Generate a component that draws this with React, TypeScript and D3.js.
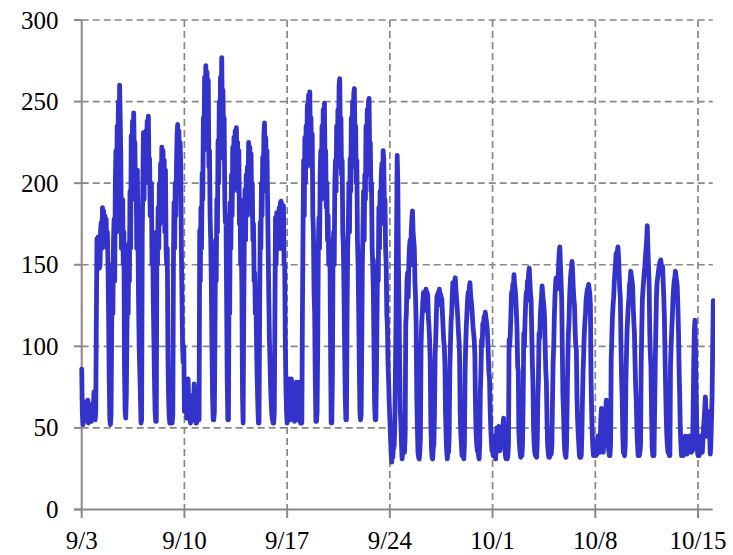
import React from "react";
import * as d3 from "d3";

// Hourly readings starting 9/3 00:00, one row per day (24 values).
const weekSep03 = [
  86, 60, 52, 66, 60, 54, 66, 58, 55, 62, 67, 53, 56, 64, 62, 55, 54, 60, 65, 58, 72, 66, 55, 60,
  120, 166, 150, 167, 162, 148, 150, 172, 176, 160, 185, 170, 183, 175, 180, 166, 178, 160, 170, 150, 120, 80, 55, 52,
  58, 110, 150, 120, 165, 178, 140, 200, 220, 170, 235, 200, 250, 210, 260, 240, 215, 160, 182, 190, 150, 170, 86, 60,
  56, 70, 110, 137, 120, 163, 140, 195, 160, 229, 190, 238, 205, 243, 220, 225, 190, 208, 160, 208, 170, 127, 100, 85,
  70, 53, 55, 167, 200, 231, 190, 225, 200, 232, 205, 238, 215, 241, 210, 215, 180, 188, 200, 150, 170, 130, 106, 80,
  60, 54, 54, 170, 150, 185, 160, 200, 175, 212, 190, 222, 195, 220, 185, 214, 170, 208, 160, 150, 160, 96, 70, 58,
  53, 62, 75, 60, 53, 58, 150, 188, 160, 200, 180, 210, 230, 236, 205, 232, 200, 225, 210, 160, 130, 100, 90, 100,
];
const weekSep10 = [
  60, 75, 78, 60, 56, 70, 80, 66, 62, 55, 53, 64, 70, 58, 55, 66, 77, 70, 60, 53, 53, 62, 60, 70,
  55, 171, 140, 185, 160, 206, 190, 240, 220, 265, 235, 272, 240, 268, 230, 263, 210, 220, 180, 165, 140, 100, 70, 55,
  55, 60, 110, 165, 140, 190, 170, 226, 200, 250, 215, 265, 240, 277, 240, 257, 230, 240, 190, 176, 180, 130, 80, 55,
  55, 150, 120, 188, 160, 205, 180, 222, 195, 228, 200, 232, 210, 234, 205, 225, 195, 220, 175, 190, 150, 165, 135, 70,
  53, 120, 170, 196, 165, 205, 180, 210, 190, 225, 195, 222, 190, 218, 180, 200, 165, 175, 140, 145, 120, 130, 100, 80,
  65, 53, 53, 120, 176, 160, 200, 180, 216, 195, 230, 237, 210, 228, 200, 220, 190, 160, 130, 104, 90, 75, 65, 58,
  55, 53, 53, 60, 120, 179, 150, 182, 160, 182, 165, 185, 160, 188, 189, 170, 187, 165, 186, 150, 150, 104, 75, 60,
];
const weekSep17 = [
  53, 62, 70, 80, 60, 55, 75, 80, 68, 56, 55, 62, 54, 60, 72, 78, 60, 55, 66, 78, 72, 60, 53, 55,
  53, 120, 170, 214, 180, 228, 200, 235, 210, 248, 220, 254, 230, 256, 225, 240, 210, 230, 180, 170, 133, 120, 80, 54,
  54, 60, 100, 160, 179, 160, 205, 220, 190, 235, 205, 245, 215, 249, 210, 220, 185, 200, 165, 180, 150, 165, 157, 100,
  53, 53, 80, 153, 170, 150, 200, 214, 195, 235, 210, 245, 225, 260, 264, 230, 240, 205, 214, 170, 160, 133, 100, 70,
  55, 55, 120, 160, 173, 200, 170, 215, 195, 240, 210, 250, 225, 255, 258, 220, 235, 200, 214, 165, 150, 122, 90, 60,
  55, 58, 100, 150, 173, 195, 165, 205, 190, 235, 205, 245, 220, 250, 252, 215, 225, 195, 200, 160, 150, 133, 100, 65,
  55, 55, 80, 120, 153, 140, 185, 160, 195, 175, 205, 212, 190, 220, 215, 185, 190, 160, 150, 120, 112, 90, 78, 65,
];
const weekSep24 = [
  55, 45, 35, 29, 40, 32, 45, 38, 50, 80, 114, 170, 217, 200, 150, 124, 90, 60, 53, 40, 31, 35, 40, 42,
  35, 45, 114, 120, 140, 145, 130, 150, 160, 165, 150, 170, 178, 183, 170, 165, 160, 140, 130, 114, 70, 50, 35, 32,
  31, 35, 45, 100, 114, 120, 128, 133, 122, 130, 125, 135, 128, 133, 131, 118, 112, 104, 90, 53, 38, 32, 31, 38,
  40, 60, 95, 104, 118, 131, 125, 133, 128, 135, 130, 132, 130, 129, 120, 112, 104, 100, 90, 60, 45, 35, 31, 38,
  35, 45, 84, 100, 114, 120, 130, 139, 132, 138, 140, 142, 135, 130, 124, 118, 110, 104, 95, 60, 47, 40, 33, 33,
  33, 31, 40, 84, 100, 112, 120, 128, 133, 128, 136, 139, 132, 128, 124, 118, 112, 108, 104, 95, 65, 47, 40, 36,
  36, 33, 31, 40, 73, 85, 104, 100, 114, 110, 118, 116, 121, 118, 115, 112, 105, 95, 84, 80, 62, 50, 42, 36,
];
const weekOct01 = [
  36, 33, 40, 45, 35, 31, 42, 50, 38, 45, 51, 40, 36, 44, 42, 48, 40, 52, 56, 44, 38, 33, 31, 31,
  31, 33, 40, 104, 100, 108, 120, 133, 128, 138, 135, 144, 138, 135, 129, 120, 110, 88, 85, 47, 40, 35, 32, 34,
  33, 40, 67, 108, 100, 115, 125, 133, 128, 140, 138, 145, 148, 140, 132, 129, 110, 90, 78, 50, 40, 35, 33, 33,
  32, 40, 67, 80, 108, 105, 118, 125, 130, 137, 132, 128, 124, 118, 100, 85, 78, 55, 40, 35, 32, 32, 33, 34,
  34, 40, 67, 90, 100, 118, 130, 138, 142, 135, 137, 140, 150, 158, 161, 150, 140, 129, 100, 70, 60, 45, 36, 33,
  32, 40, 67, 90, 108, 115, 130, 139, 145, 148, 152, 145, 135, 129, 125, 110, 100, 98, 70, 55, 47, 40, 33, 32,
  32, 33, 45, 67, 85, 95, 108, 115, 120, 129, 132, 135, 136, 138, 135, 132, 125, 80, 60, 47, 38, 33, 34, 35,
];
const weekOct08 = [
  35, 33, 38, 34, 45, 40, 36, 35, 42, 55, 62, 50, 42, 35, 40, 50, 45, 60, 67, 60, 48, 40, 36, 33,
  33, 40, 92, 105, 118, 125, 130, 139, 145, 150, 157, 155, 158, 161, 155, 145, 135, 129, 100, 80, 67, 45, 35, 34,
  33, 40, 78, 95, 110, 118, 125, 130, 138, 140, 146, 143, 140, 137, 125, 115, 108, 90, 75, 67, 50, 40, 33, 33,
  33, 35, 40, 88, 110, 129, 135, 140, 145, 149, 155, 160, 165, 174, 160, 150, 139, 110, 95, 88, 60, 38, 33, 33,
  33, 60, 88, 110, 130, 139, 142, 145, 148, 150, 152, 153, 150, 149, 149, 140, 130, 118, 95, 75, 57, 45, 38, 35,
  35, 33, 33, 88, 100, 110, 118, 129, 135, 140, 142, 146, 143, 140, 137, 125, 110, 88, 70, 50, 40, 33, 34, 36,
  33, 40, 36, 45, 42, 36, 34, 40, 38, 45, 42, 45, 38, 35, 40, 36, 60, 90, 110, 116, 95, 70, 50, 36,
];
const weekOct15 = [
  33, 36, 33, 40, 45, 42, 38, 35, 42, 50, 55, 62, 69, 60, 50, 45, 52, 58, 60, 45, 34, 40, 55, 70,
  100, 128,
];

const yTicks = [0, 50, 100, 150, 200, 250, 300];
const xTickLabels = ["9/3", "9/10", "9/17", "9/24", "10/1", "10/8", "10/15"];

const START = new Date(2018, 8, 3);
const END = new Date(2018, 9, 16);

const values = [
  ...weekSep03, ...weekSep10, ...weekSep17, ...weekSep24,
  ...weekOct01, ...weekOct08, ...weekOct15,
];
const series = values.map((v, i) => ({ t: d3.timeHour.offset(START, i), v }));
const tickDates = xTickLabels.map((_, i) => d3.timeDay.offset(START, i * 7));

const W = 733;
const H = 555;
const left = 81.7;
const right = 712.7;
const top = 20;
const bottom = 509.5;

const GRID = "#888888";
const FONT = "'Liberation Serif', 'Times New Roman', serif";

export default function App() {
  const x = d3.scaleTime().domain([START, END]).range([left, right]);
  const y = d3.scaleLinear().domain([0, 300]).range([bottom, top]);
  const line = d3
    .line<{ t: Date; v: number }>()
    .x((d) => x(d.t))
    .y((d) => y(d.v));

  return (
    <svg
      width={W}
      height={H}
      style={{ position: "absolute", left: 0, top: 0, background: "#fff" }}
    >
      <defs>
        <clipPath id="plot-clip">
          <rect x={0} y={0} width={715} height={H} />
        </clipPath>
      </defs>

      {/* horizontal grid */}
      {yTicks.filter((t) => t > 0).map((t) => (
        <line
          key={"hg" + t}
          x1={left}
          x2={right}
          y1={y(t)}
          y2={y(t)}
          stroke={GRID}
          strokeWidth={1.7}
          strokeDasharray="7,4"
        />
      ))}
      {/* vertical grid */}
      {tickDates.slice(1).map((d, i) => (
        <line
          key={"vg" + i}
          x1={x(d)}
          x2={x(d)}
          y1={top}
          y2={bottom}
          stroke={GRID}
          strokeWidth={1.7}
          strokeDasharray="7,4"
        />
      ))}

      {/* axes */}
      <line x1={left} x2={left} y1={top} y2={bottom} stroke={GRID} strokeWidth={2} />
      <line x1={74} x2={right} y1={bottom} y2={bottom} stroke={GRID} strokeWidth={2} />
      {yTicks.map((t) => (
        <line key={"yt" + t} x1={74} x2={left} y1={y(t)} y2={y(t)} stroke={GRID} strokeWidth={2} />
      ))}
      {tickDates.map((d, i) => (
        <line key={"xt" + i} x1={x(d)} x2={x(d)} y1={bottom} y2={518} stroke={GRID} strokeWidth={2} />
      ))}

      {/* hourly load */}
      <path
        d={line(series) ?? ""}
        fill="none"
        stroke="#3333cc"
        strokeWidth={4.8}
        strokeLinejoin="round"
        strokeLinecap="round"
        clipPath="url(#plot-clip)"
      />

      {/* tick labels */}
      {yTicks.map((t) => (
        <text
          key={"yl" + t}
          x={58.5}
          y={y(t)}
          dy="0.34em"
          textAnchor="end"
          fontFamily={FONT}
          fontSize={25}
          fill="#000"
        >
          {t}
        </text>
      ))}
      {tickDates.map((d, i) => (
        <text
          key={"xl" + i}
          x={x(d)}
          y={549}
          textAnchor="middle"
          fontFamily={FONT}
          fontSize={25}
          fill="#000"
        >
          {xTickLabels[i]}
        </text>
      ))}
    </svg>
  );
}
